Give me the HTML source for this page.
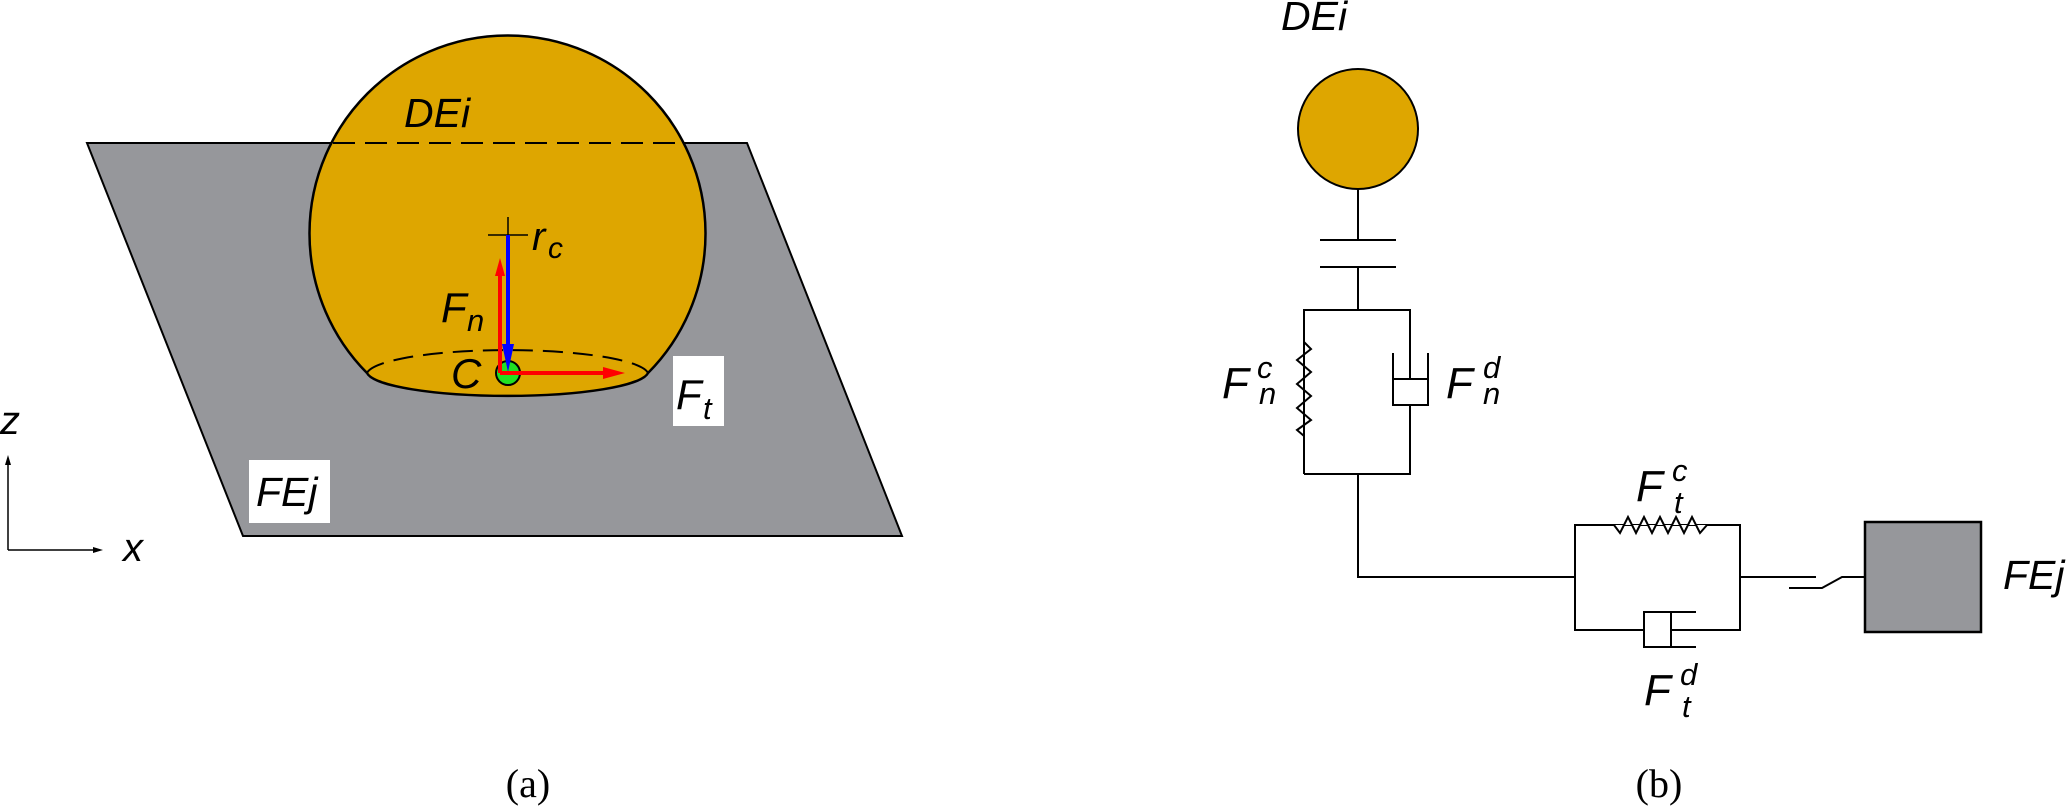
<!DOCTYPE html>
<html><head><meta charset="utf-8"><style>
html,body{margin:0;padding:0;background:#fff;}
svg{display:block;}
text{font-family:"Liberation Sans",sans-serif;font-style:italic;fill:#000;}
.s{font-family:"Liberation Serif",serif;font-style:normal;}
</style></head><body>
<svg width="2067" height="809" viewBox="0 0 2067 809" xmlns="http://www.w3.org/2000/svg">
<!-- (a) -->
<polygon points="87,143 747,143 902,536 243,536" fill="#96979b" stroke="#000" stroke-width="2"/>
<path d="M367,373 A198,198 0 1 1 648,373 A141,25 0 0 1 367,373 Z" fill="#dea600" stroke="#000" stroke-width="2.5"/>
<line x1="333" y1="143" x2="683" y2="143" stroke="#000" stroke-width="2" stroke-dasharray="22,10"/>
<path d="M367,373 A141,25 0 0 1 648,373" fill="none" stroke="#000" stroke-width="2" stroke-dasharray="20,10"/>
<text x="404" y="127" font-size="41">DEi</text>
<line x1="488" y1="235" x2="528" y2="235" stroke="#000" stroke-width="1.5"/>
<line x1="508" y1="217" x2="508" y2="253" stroke="#000" stroke-width="1.5"/>
<text x="532" y="250" font-size="40">r</text><text x="548" y="258" font-size="30">c</text>
<text x="441" y="322" font-size="42">F</text><text x="467" y="331" font-size="31">n</text>
<text x="451" y="388" font-size="42">C</text>
<ellipse cx="508" cy="373" rx="12" ry="12" fill="#22e022" stroke="#000" stroke-width="2"/>
<line x1="500" y1="373" x2="500" y2="272" stroke="#f00" stroke-width="4"/>
<polygon points="500,258 495,276 505,276" fill="#f00"/>
<line x1="508" y1="235" x2="508" y2="345" stroke="#00f" stroke-width="4"/>
<polygon points="508,372 502,344 514,344" fill="#00f"/>
<line x1="500" y1="373" x2="605" y2="373" stroke="#f00" stroke-width="4"/>
<polygon points="625,373 603,367 603,379" fill="#f00"/>
<rect x="673" y="356" width="51" height="70" fill="#fff"/>
<text x="676" y="409" font-size="42">F</text><text x="703" y="419" font-size="31">t</text>
<rect x="249" y="460" width="81" height="63" fill="#fff"/>
<text x="256" y="506" font-size="41">FEj</text>
<line x1="8" y1="550" x2="8" y2="462" stroke="#000" stroke-width="1.5"/>
<polygon points="8,455 5,465 11,465" fill="#000"/>
<line x1="8" y1="550" x2="96" y2="550" stroke="#000" stroke-width="1.5"/>
<polygon points="103,550 93,547 93,553" fill="#000"/>
<text x="0" y="434" font-size="40">z</text>
<text x="123" y="561" font-size="40">x</text>
<text class="s" x="528" y="797" font-size="40" text-anchor="middle">(a)</text>
<!-- (b) -->
<text x="1281" y="30" font-size="41">DEi</text>
<circle cx="1358" cy="129" r="60" fill="#dea600" stroke="#000" stroke-width="2"/>
<g stroke="#000" stroke-width="2" fill="none">
<line x1="1358" y1="189" x2="1358" y2="240"/>
<line x1="1320" y1="240" x2="1396" y2="240"/>
<line x1="1320" y1="267" x2="1396" y2="267"/>
<line x1="1358" y1="267" x2="1358" y2="310"/>
<polyline points="1304,474 1304,310 1410,310 1410,379"/>
<polyline points="1304,342 1311,349 1297,360 1311,372 1297,384 1311,396 1297,408 1311,420 1297,430 1304,436"/>
<line x1="1304" y1="436" x2="1304" y2="474"/>
<polyline points="1393,353 1393,405 1428,405 1428,353"/>
<line x1="1393" y1="379" x2="1428" y2="379"/>
<polyline points="1410,405 1410,474 1304,474"/>
<polyline points="1358,474 1358,577 1575,577"/>
<rect x="1575" y="525" width="165" height="105"/>
<polyline points="1575,525 1614,525 1620,533 1628,517 1636,533 1644,517 1652,533 1660,517 1668,533 1676,517 1684,533 1692,517 1700,533 1707,525 1740,525" fill="#fff"/>
<line x1="1575" y1="630" x2="1644" y2="630"/>
<polyline points="1696,612 1644,612 1644,647 1696,647" fill="#fff"/>
<line x1="1671" y1="612" x2="1671" y2="647"/>
<line x1="1671" y1="630" x2="1740" y2="630"/>
<line x1="1740" y1="577" x2="1816" y2="577"/>
<polyline points="1789,588 1822,588 1842,577 1865,577"/>
</g>
<rect x="1865" y="522" width="116" height="110" fill="#96979b" stroke="#000" stroke-width="2.5"/>
<text x="2003" y="589" font-size="41">FEj</text>
<text x="1222" y="398" font-size="44">F</text><text x="1257" y="378" font-size="31">c</text><text x="1259" y="404" font-size="31">n</text>
<text x="1446" y="398" font-size="44">F</text><text x="1483" y="378" font-size="31">d</text><text x="1483" y="404" font-size="31">n</text>
<text x="1636" y="501" font-size="44">F</text><text x="1672" y="481" font-size="31">c</text><text x="1674" y="513" font-size="31">t</text>
<text x="1644" y="705" font-size="44">F</text><text x="1680" y="685" font-size="31">d</text><text x="1682" y="717" font-size="31">t</text>
<text class="s" x="1659" y="797" font-size="40" text-anchor="middle">(b)</text>
</svg>
</body></html>
